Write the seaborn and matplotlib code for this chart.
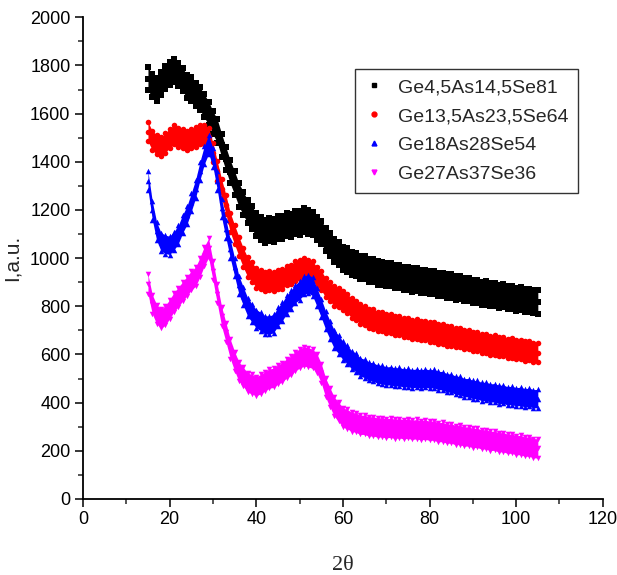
import matplotlib
matplotlib.use("Agg")
import matplotlib.pyplot as plt
import seaborn as sns
from matplotlib.lines import Line2D
from matplotlib.ticker import MultipleLocator

# ---- data ----
two_theta = list(range(15, 106))

series_labels = ["Ge4,5As14,5Se81", "Ge13,5As23,5Se64", "Ge18As28Se54", "Ge27As37Se36"]

ge45 = [1745, 1715, 1700, 1725, 1750, 1768, 1778, 1762, 1742, 1712,
        1702, 1678, 1662, 1632, 1602, 1562, 1528, 1468, 1412, 1358,
        1312, 1262, 1228, 1192, 1168, 1138, 1122, 1112, 1118, 1116,
        1128, 1126, 1138, 1136, 1148, 1146, 1158, 1150, 1142, 1122,
        1108, 1078, 1058, 1032, 1018, 998, 992, 978, 974, 962,
        960, 948, 947, 938, 937, 933, 931, 925, 924, 917,
        917, 909, 910, 903, 904, 897, 898, 891, 892, 884,
        884, 876, 877, 868, 869, 860, 861, 854, 855, 848,
        849, 842, 843, 836, 837, 830, 831, 824, 825, 819,
        818]

ge135 = [1525, 1488, 1472, 1462, 1478, 1498, 1512, 1502, 1497, 1488,
         1496, 1503, 1512, 1512, 1502, 1438, 1362, 1288, 1222, 1148,
         1097, 1048, 1002, 963, 942, 918, 912, 903, 907, 903,
         912, 913, 927, 933, 947, 953, 960, 953, 947, 923,
         907, 878, 862, 843, 837, 823, 812, 793, 784, 768,
         762, 750, 747, 738, 737, 728, 728, 720, 720, 712,
         712, 705, 706, 699, 700, 693, 693, 685, 685, 677,
         677, 669, 669, 661, 661, 653, 653, 645, 645, 638,
         639, 632, 633, 626, 627, 620, 621, 614, 615, 608,
         607]

ge18 = [1322, 1198, 1112, 1068, 1057, 1053, 1072, 1098, 1142, 1178,
        1232, 1288, 1362, 1428, 1472, 1418, 1322, 1208, 1122, 1038,
        962, 888, 842, 798, 772, 748, 737, 723, 722, 728,
        757, 778, 807, 828, 852, 866, 887, 893, 882, 838,
        792, 743, 702, 663, 642, 616, 600, 578, 567, 548,
        542, 530, 527, 518, 517, 510, 512, 506, 508, 502,
        504, 499, 502, 498, 502, 498, 500, 492, 491, 482,
        481, 472, 471, 462, 462, 454, 454, 446, 447, 440,
        441, 434, 435, 428, 430, 424, 426, 420, 422, 416,
        417]

ge27 = [892, 808, 767, 748, 762, 788, 817, 838, 862, 883,
        907, 923, 962, 1008, 1042, 948, 852, 758, 692, 623,
        572, 528, 507, 483, 477, 468, 477, 488, 500, 503,
        517, 526, 542, 553, 572, 583, 592, 588, 582, 563,
        522, 463, 422, 383, 362, 338, 332, 320, 317, 308,
        308, 301, 302, 296, 298, 293, 296, 291, 294, 289,
        292, 287, 290, 285, 288, 283, 284, 277, 278, 271,
        272, 265, 266, 259, 260, 253, 254, 247, 248, 241,
        242, 235, 236, 229, 230, 223, 224, 217, 218, 211,
        210]

# ---- style ----
colors = ["#000000", "#ff0000", "#0000ff", "#ff00ff"]
markers = ["s", "o", "^", "v"]
spread = [48, 40, 38, 40]   # visual half-thickness of the noisy scatter band

sns.set_style("ticks")
plt.rcParams["font.family"] = ["Liberation Sans", "DejaVu Sans"]

fig = plt.figure(figsize=(6.17, 5.75), dpi=100)
ax = fig.add_axes([0.1345, 0.1322, 0.8425, 0.8378])

for i, (ys, c, m, hw) in enumerate(zip([ge45, ge135, ge18, ge27], colors, markers, spread)):
    z = 2 + i
    lo = [v - hw for v in ys]
    hi = [v + hw for v in ys]
    ax.fill_between(two_theta, lo, hi, color=c, lw=0, zorder=z)
    for arr in (lo, ys, hi):
        sns.scatterplot(x=two_theta, y=arr, ax=ax, color=c, marker=m, s=16,
                        linewidth=0, edgecolor=c, legend=False, zorder=z)

ax.set_xlim(0, 120)
ax.set_ylim(0, 2000)
ax.xaxis.set_major_locator(MultipleLocator(20))
ax.xaxis.set_minor_locator(MultipleLocator(10))
ax.yaxis.set_major_locator(MultipleLocator(200))
ax.yaxis.set_minor_locator(MultipleLocator(100))
ax.tick_params(which="major", direction="out", length=6, width=1.1,
               labelsize=13, colors="#000000", pad=3)
ax.tick_params(which="minor", direction="out", length=3.5, width=1.1)
for s in ("left", "bottom"):
    ax.spines[s].set_linewidth(1.3)
    ax.spines[s].set_color("#000000")
sns.despine(ax=ax)

ax.set_xlabel("2θ", fontsize=16, family=["Liberation Serif", "DejaVu Serif"], labelpad=20)
ax.set_ylabel("I,a.u.", fontsize=15, labelpad=6)

handles = [Line2D([0], [0], linestyle="none", marker=m, color=c, markersize=3.5)
           for m, c in zip(markers, colors)]
leg = ax.legend(handles, series_labels, loc="upper right", bbox_to_anchor=(0.953, 0.893),
                fontsize=14, frameon=True, fancybox=False, edgecolor="#000000",
                handlelength=0.9, handletextpad=0.8, borderpad=0.5, labelspacing=0.58,
                borderaxespad=0)
leg.get_frame().set_linewidth(1.0)

fig.savefig("out.png", dpi=100)
